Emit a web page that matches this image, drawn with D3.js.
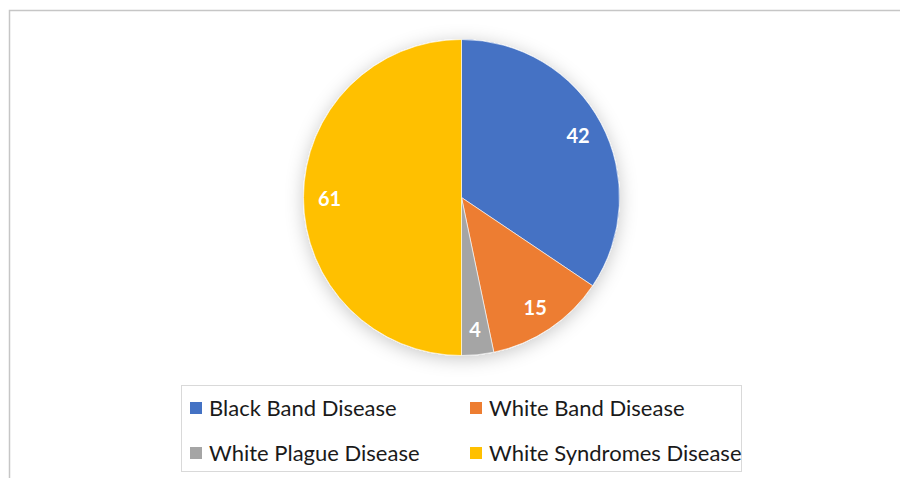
<!DOCTYPE html>
<html>
<head>
<meta charset="utf-8">
<script src="https://cdn.jsdelivr.net/npm/d3@7"></script>
<style>
html,body{margin:0;padding:0;background:#fff;}
svg{display:block;}
</style>
</head>
<body>
<svg id="chart" width="900" height="478"></svg>
<script>
const categories = ["Black Band Disease", "White Band Disease", "White Plague Disease", "White Syndromes Disease"];
const values = [42, 15, 4, 61];
const colors = ["#4472C4", "#ED7D31", "#A5A5A5", "#FFC000"];

const svg = d3.select("#chart");

// outer chart frame
svg.append("rect")
  .attr("x", 9.5).attr("y", 10.5)
  .attr("width", 1000).attr("height", 1000)
  .attr("fill", "#fff")
  .attr("stroke", "#c6c6c6").attr("stroke-width", 1.5);

const defs = svg.append("defs");
const f = defs.append("filter").attr("id", "shadow")
  .attr("x", "-30%").attr("y", "-30%").attr("width", "160%").attr("height", "160%");
f.append("feDropShadow").attr("dx", 0).attr("dy", 3)
  .attr("stdDeviation", 9).attr("flood-color", "#000").attr("flood-opacity", 0.22);

const cx = 461.5, cy = 197.5, R = 158;

const pie = d3.pie().sort(null).value(d => d.v);
const data = categories.map((c, i) => ({c, v: values[i], col: colors[i]}));
const arcs = pie(data);
const arc = d3.arc().innerRadius(0).outerRadius(R);
const labelArc = d3.arc().innerRadius(132).outerRadius(132);

const g = svg.append("g").attr("transform", `translate(${cx},${cy})`);
g.append("g").attr("filter", "url(#shadow)")
  .selectAll("path").data(arcs).join("path")
  .attr("d", arc)
  .attr("fill", d => d.data.col)
  .attr("stroke", "#fff").attr("stroke-width", 0.6);

g.selectAll("text.lbl").data(arcs).join("text")
  .attr("class", "lbl")
  .attr("transform", d => `translate(${labelArc.centroid(d)})`)
  .attr("text-anchor", "middle")
  .attr("dy", "0.4em")
  .attr("fill", "#fff")
  .attr("font-family", "Lato, 'Open Sans', sans-serif")
  .attr("font-weight", "bold")
  .attr("font-size", 20)
  .text(d => d.data.v);

// legend
const lx = 181, ly = 385, lw = 560, lh = 86;
svg.append("rect")
  .attr("x", lx + 0.5).attr("y", ly + 0.5)
  .attr("width", lw).attr("height", lh)
  .attr("fill", "#fff").attr("stroke", "#d9d9d9").attr("stroke-width", 1);

const colX = [190, 470];
const rowY = [408, 453];
const leg = svg.append("g");
data.forEach((d, i) => {
  const x = colX[i % 2], y = rowY[Math.floor(i / 2)];
  leg.append("rect").attr("x", x).attr("y", y - 6).attr("width", 12).attr("height", 12).attr("fill", d.col);
  leg.append("text")
    .attr("x", x + 19).attr("y", y)
    .attr("dy", "0.35em")
    .attr("fill", "#1a1a1a")
    .attr("font-family", "Lato, 'Open Sans', sans-serif")
    .attr("font-size", 22)
    .text(d.c);
});
</script>
</body>
</html>
